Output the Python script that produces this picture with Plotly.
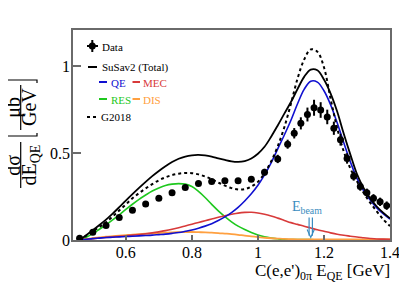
import plotly.graph_objects as go

# ---------------- data ----------------
data_x = [0.46, 0.50, 0.54, 0.58, 0.62, 0.66, 0.70, 0.74, 0.78, 0.82, 0.86, 0.90, 0.94, 0.98,
          1.02, 1.06, 1.09, 1.11, 1.13, 1.15, 1.17, 1.19, 1.21, 1.23, 1.25, 1.27, 1.29, 1.31,
          1.33, 1.35, 1.37, 1.39]
data_y = [0.010, 0.044, 0.084, 0.130, 0.172, 0.207, 0.241, 0.272, 0.303, 0.326, 0.337, 0.341,
          0.341, 0.350, 0.390, 0.467, 0.552, 0.615, 0.672, 0.723, 0.762, 0.749, 0.709, 0.644,
          0.578, 0.470, 0.368, 0.308, 0.272, 0.240, 0.220, 0.198]
data_err = [0.004, 0.005, 0.006, 0.007, 0.008, 0.009, 0.010, 0.010, 0.011, 0.012, 0.013, 0.013,
            0.014, 0.016, 0.020, 0.024, 0.026, 0.030, 0.035, 0.040, 0.046, 0.045, 0.042, 0.038,
            0.034, 0.030, 0.026, 0.024, 0.024, 0.024, 0.024, 0.024]

curve_x = [0.46, 0.48, 0.50, 0.52, 0.54, 0.56, 0.58, 0.60, 0.62, 0.64, 0.66, 0.68, 0.70, 0.72,
           0.74, 0.76, 0.78, 0.80, 0.82, 0.84, 0.86, 0.88, 0.90, 0.92, 0.94, 0.96, 0.98, 1.00,
           1.02, 1.04, 1.06, 1.08, 1.10, 1.12, 1.14, 1.16, 1.18, 1.20, 1.22, 1.24, 1.26, 1.28,
           1.30, 1.32, 1.34, 1.36, 1.38, 1.40]
susav2_total = [0.000, 0.027, 0.057, 0.086, 0.117, 0.152, 0.189, 0.227, 0.264, 0.300, 0.335, 0.368,
                0.398, 0.425, 0.449, 0.468, 0.481, 0.488, 0.490, 0.487, 0.480, 0.470, 0.461, 0.453,
                0.450, 0.455, 0.470, 0.497, 0.537, 0.595, 0.660, 0.728, 0.795, 0.870, 0.940, 0.982,
                0.978, 0.925, 0.845, 0.740, 0.612, 0.492, 0.380, 0.300, 0.240, 0.193, 0.156, 0.125]
qe = [0.000, 0.004, 0.008, 0.011, 0.014, 0.016, 0.018, 0.020, 0.022, 0.024, 0.026, 0.028,
      0.031, 0.034, 0.038, 0.043, 0.050, 0.058, 0.068, 0.080, 0.094, 0.112, 0.133, 0.158,
      0.188, 0.225, 0.266, 0.315, 0.375, 0.445, 0.525, 0.605, 0.690, 0.785, 0.868, 0.915,
      0.910, 0.860, 0.780, 0.675, 0.560, 0.450, 0.355, 0.285, 0.230, 0.185, 0.150, 0.120]
mec = [0.000, 0.004, 0.008, 0.012, 0.015, 0.018, 0.021, 0.024, 0.028, 0.032, 0.036, 0.041,
       0.047, 0.054, 0.062, 0.071, 0.081, 0.091, 0.101, 0.111, 0.121, 0.131, 0.140, 0.148,
       0.155, 0.159, 0.160, 0.156, 0.148, 0.138, 0.126, 0.113, 0.100, 0.090, 0.079, 0.069,
       0.059, 0.050, 0.041, 0.033, 0.027, 0.022, 0.017, 0.013, 0.009, 0.006, 0.005, 0.004]
res = [0.000, 0.016, 0.037, 0.062, 0.088, 0.116, 0.145, 0.176, 0.206, 0.234, 0.259, 0.282,
       0.300, 0.314, 0.322, 0.325, 0.322, 0.308, 0.280, 0.245, 0.205, 0.168, 0.135, 0.105,
       0.080, 0.060, 0.043, 0.029, 0.018, 0.011, 0.007, 0.004, 0.003, 0.002, 0.002, 0.002,
       0.001, 0.001, 0.001, 0.001, 0.001, 0.001, 0.001, 0.001, 0.001, 0.001, 0.001, 0.001]
dis = [0.000, 0.006, 0.011, 0.015, 0.019, 0.022, 0.025, 0.028, 0.031, 0.033, 0.036, 0.038,
       0.040, 0.042, 0.044, 0.045, 0.046, 0.046, 0.045, 0.044, 0.042, 0.040, 0.037, 0.034,
       0.030, 0.025, 0.021, 0.017, 0.013, 0.010, 0.008, 0.006, 0.005, 0.004, 0.004, 0.004,
       0.003, 0.003, 0.003, 0.003, 0.003, 0.003, 0.003, 0.003, 0.003, 0.003, 0.003, 0.003]
g2018 = [0.000, 0.025, 0.050, 0.075, 0.102, 0.135, 0.170, 0.205, 0.240, 0.270, 0.297, 0.322,
         0.344, 0.361, 0.374, 0.382, 0.386, 0.385, 0.378, 0.366, 0.350, 0.331, 0.313, 0.299,
         0.291, 0.293, 0.308, 0.335, 0.385, 0.452, 0.540, 0.650, 0.785, 0.930, 1.040, 1.098,
         1.085, 0.995, 0.815, 0.645, 0.510, 0.412, 0.338, 0.272, 0.215, 0.165, 0.118, 0.080]

x_tickvals = [0.6, 0.8, 1.0, 1.2, 1.4]
x_ticktext = ["0.6", "0.8", "1", "1.2", "1.4"]
y_tickvals = [0, 0.5, 1.0]
y_ticktext = ["0", "0.5", "1"]
e_beam = 1.16

# ---------------- styles ----------------
C_QE = "#1010d0"
C_MEC = "#d83a3a"
C_RES = "#1ec81e"
C_DIS = "#ffa040"
C_EB = "#3a8cc0"
AX = "#6a6a6a"
SERIF = "Liberation Serif, Times New Roman, serif"

# the page body adds an 8 px offset; size the figure so that it sits in the window
OFF = 8
W, H = 407 - OFF, 294 - OFF
ML, MT = 73 - OFF, 30 - OFF
PLOT_R, PLOT_B = 390 - OFF, 240 - OFF
MR, MB = W - PLOT_R, H - PLOT_B
PW, PH = W - ML - MR, H - MT - MB


def PX(px):  # reference window pixel -> paper x
    return (px - OFF - ML) / PW


def PY(py):  # reference window pixel -> paper y
    return (MT + PH - (py - OFF)) / PH


fig = go.Figure()
fig.add_trace(go.Scatter(x=curve_x, y=res, mode="lines", line=dict(color=C_RES, width=1.6),
                         line_shape="spline", showlegend=False))
fig.add_trace(go.Scatter(x=curve_x, y=dis, mode="lines", line=dict(color=C_DIS, width=1.8),
                         line_shape="spline", showlegend=False))
fig.add_trace(go.Scatter(x=curve_x, y=mec, mode="lines", line=dict(color=C_MEC, width=1.6),
                         line_shape="spline", showlegend=False))
fig.add_trace(go.Scatter(x=curve_x, y=qe, mode="lines", line=dict(color=C_QE, width=1.6),
                         line_shape="spline", showlegend=False))
fig.add_trace(go.Scatter(x=curve_x, y=g2018, mode="lines",
                         line=dict(color="black", width=2, dash="dot"),
                         line_shape="spline", showlegend=False))
fig.add_trace(go.Scatter(x=curve_x, y=susav2_total, mode="lines",
                         line=dict(color="black", width=1.8),
                         line_shape="spline", showlegend=False))
fig.add_trace(go.Scatter(x=data_x, y=data_y, mode="markers",
                         marker=dict(color="black", size=7),
                         error_y=dict(type="data", array=data_err, color="black",
                                      thickness=2, width=0),
                         showlegend=False))

shapes = []
annotations = []

# ---- hand-made legend ----
def seg(x0, x1, y, color, dash="solid", width=2):
    shapes.append(dict(type="line", xref="paper", yref="paper", x0=PX(x0), x1=PX(x1),
                       y0=PY(y), y1=PY(y), line=dict(color=color, width=width, dash=dash)))


def label(x, y, text, color="black", size=11):
    annotations.append(dict(xref="paper", yref="paper", x=PX(x), y=PY(y), text=text,
                            showarrow=False, xanchor="left", yanchor="middle",
                            font=dict(family=SERIF, size=size, color=color)))


# Data symbol (marker with error cross)
seg(87, 98, 46, "black", width=2)
shapes.append(dict(type="line", xref="paper", yref="paper", x0=PX(92.3), x1=PX(92.3),
                   y0=PY(40), y1=PY(52), line=dict(color="black", width=2)))
shapes.append(dict(type="circle", xref="paper", yref="paper", x0=PX(88.8), x1=PX(95.8),
                   y0=PY(42.5), y1=PY(49.5), fillcolor="black", line=dict(color="black", width=0)))
label(100, 46.5, "Data")
seg(88, 97, 67, "black")
label(99.5, 67.5, "SuSav2 (Total)")
seg(99, 107, 82, C_QE)
label(108.5, 82.5, "QE", C_QE)
seg(132.5, 140, 82, C_MEC)
label(141, 82.5, "MEC", C_MEC)
seg(99, 107, 99, C_RES)
label(108.5, 99.5, "RES", C_RES)
seg(132.5, 140, 99, C_DIS)
label(141, 99.5, "DIS", C_DIS)
seg(87, 97, 117, "black", dash="dot", width=2)
label(98.5, 117.5, "G2018")

# ---- E_beam marker (double arrow) ----
shapes.append(dict(type="line", xref="x", yref="y", x0=e_beam - 0.005, x1=e_beam - 0.005,
                   y0=0.13, y1=0.025, line=dict(color=C_EB, width=1.2)))
shapes.append(dict(type="line", xref="x", yref="y", x0=e_beam + 0.005, x1=e_beam + 0.005,
                   y0=0.13, y1=0.025, line=dict(color=C_EB, width=1.2)))
shapes.append(dict(type="path", xref="x", yref="y",
                   path=f"M {e_beam - 0.011},0.06 L {e_beam},0.015 L {e_beam + 0.011},0.06",
                   line=dict(color=C_EB, width=1.2)))
annotations.append(dict(xref="x", yref="y", x=e_beam - 0.012, y=0.19,
                        text="E<sub>beam</sub>", showarrow=False, xanchor="center",
                        yanchor="middle", font=dict(family=SERIF, size=14, color=C_EB)))

# ---- x title ----
annotations.append(dict(xref="paper", yref="paper", x=PX(392), y=PY(272),
                        text="C(e,e')<sub>0π</sub> E<sub>QE</sub> [GeV]", showarrow=False,
                        xanchor="right", yanchor="middle",
                        font=dict(family=SERIF, size=17, color="black")))

# ---- y title (two stacked fractions, rotated) ----
def rot(x, y, text, size=20):
    annotations.append(dict(xref="paper", yref="paper", x=PX(x), y=PY(y), text=text,
                            showarrow=False, textangle=-90, xanchor="center",
                            yanchor="middle", font=dict(family=SERIF, size=size, color="black")))


def vline(x, y0, y1, width=1.2):
    shapes.append(dict(type="line", xref="paper", yref="paper", x0=PX(x), x1=PX(x),
                       y0=PY(y0), y1=PY(y1), line=dict(color="black", width=width)))


rot(12.8, 165, "dσ")
vline(20.7, 142, 188)
rot(29.5, 165, "dE<sub>QE</sub>")
rot(12.8, 107, "μb")
vline(20.7, 85, 130)
rot(29, 107, "GeV")
# brackets
shapes.append(dict(type="path", xref="paper", yref="paper",
                   path=f"M {PX(4)},{PY(83)} L {PX(4)},{PY(80)} L {PX(37)},{PY(80)} L {PX(37)},{PY(83)}",
                   line=dict(color="black", width=1.2)))
shapes.append(dict(type="path", xref="paper", yref="paper",
                   path=f"M {PX(4)},{PY(133)} L {PX(4)},{PY(136)} L {PX(37)},{PY(136)} L {PX(37)},{PY(133)}",
                   line=dict(color="black", width=1.2)))

fig.update_layout(
    width=W, height=H, autosize=False,
    margin=dict(l=ML, r=MR, t=MT, b=MB, pad=0),
    paper_bgcolor="white", plot_bgcolor="white",
    font=dict(family=SERIF, size=16, color="black"),
    shapes=shapes, annotations=annotations, showlegend=False,
    xaxis=dict(range=[0.44, 1.40], tickvals=x_tickvals, ticktext=x_ticktext,
               ticks="inside", ticklen=5, tickwidth=1.5, tickcolor=AX,
               showline=True, linecolor=AX, linewidth=1.5, mirror=True,
               showgrid=False, zeroline=False, automargin=False, ticklabelstandoff=-3,
               tickfont=dict(family=SERIF, size=16, color="black")),
    yaxis=dict(range=[0, 1.21], tickvals=y_tickvals, ticktext=y_ticktext,
               ticks="inside", ticklen=8, tickwidth=1.5, tickcolor=AX,
               showline=True, linecolor=AX, linewidth=1.5, mirror=True,
               showgrid=False, zeroline=False, automargin=False, ticklabelstandoff=-2,
               tickfont=dict(family=SERIF, size=16, color="black")),
)

fig.write_html("out.html")
